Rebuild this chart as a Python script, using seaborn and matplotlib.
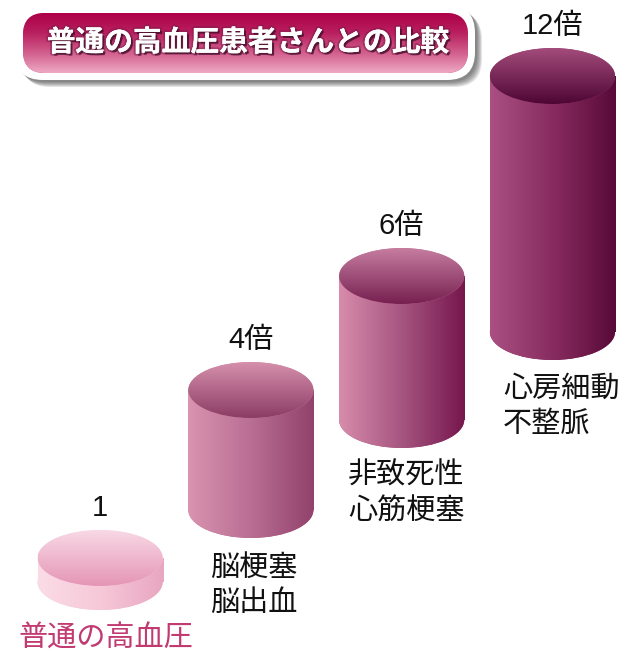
import numpy as np
import seaborn as sns
import matplotlib.pyplot as plt
import matplotlib.patheffects as pe
from matplotlib.colors import LinearSegmentedColormap
from matplotlib.patches import Ellipse, FancyBboxPatch

# values
title = "普通の高血圧患者さんとの比較"
categories = ["普通の高血圧", "脳梗塞 脳出血", "非致死性 心筋梗塞", "心房細動 不整脈"]
ratio_labels = ["1", "4倍", "6倍", "12倍"]
wall_heights = [24, 120, 144, 256]
base_levels = [70, 142, 232, 320]
label_lines = [["普通の高血圧"], ["脳梗塞", "脳出血"], ["非致死性", "心筋梗塞"], ["心房細動", "不整脈"]]

# colours per cylinder
wall_colors = [
    ["#fbdce6", "#f6c8d8", "#e8a6c0"],
    ["#d994b0", "#b96e93", "#92426c"],
    ["#d88cab", "#a65580", "#76164e"],
    ["#aa5082", "#882c60", "#580a38"],
]
top_colors = [
    ["#f8d9e5", "#e595b5"],
    ["#d590ac", "#8c3c64"],
    ["#c67da0", "#762050"],
    ["#a34c7b", "#4e0634"],
]
label_colors = ["#c23a72", "#111111", "#111111", "#111111"]

sns.set_theme(style="white")
plt.rcParams["font.family"] = ["Liberation Sans", "Noto Sans CJK JP"]

fig = plt.figure(figsize=(6.23, 6.52), dpi=100)
ax = fig.add_axes([0, 0, 1, 1])

sns.barplot(x=categories, y=wall_heights, bottom=base_levels, width=0.83,
            color="#a6527f", errorbar=None, saturation=1, ax=ax)

ry = 28  # half height of the ellipses
h_grad = np.linspace(0, 1, 256).reshape(1, -1)
v_grad = np.linspace(0, 1, 256).reshape(-1, 1)

for i, bar in enumerate(ax.patches):
    x0 = bar.get_x()
    w = bar.get_width()
    cx = x0 + w / 2
    y0 = bar.get_y()
    y1 = y0 + bar.get_height()

    wall_cmap = LinearSegmentedColormap.from_list("wall", wall_colors[i])
    top_cmap = LinearSegmentedColormap.from_list("top", top_colors[i])

    # wall: bar body plus the rounded lower edge
    low = Ellipse((cx, y0), w, 2 * ry, facecolor=wall_colors[i][1], edgecolor="none", zorder=1)
    ax.add_patch(low)
    for clip in (bar, low):
        im = ax.imshow(h_grad, cmap=wall_cmap, aspect="auto", zorder=2,
                       extent=(x0, x0 + w, y0 - ry, y1))
        im.set_clip_path(clip)

    # top face
    top = Ellipse((cx, y1), w, 2 * ry, facecolor=top_colors[i][0], edgecolor="none", zorder=3)
    ax.add_patch(top)
    im = ax.imshow(v_grad, cmap=top_cmap, aspect="auto", zorder=4,
                   extent=(x0, x0 + w, y1 - ry, y1 + ry))
    im.set_clip_path(top)

    # ratio above the cylinder
    ax.annotate(ratio_labels[i], (cx, y1 + ry), xytext=(0, 16), textcoords="offset points",
                ha="center", va="center", fontsize=21, color="#111111")

ax.set_xlim(-0.664, 3.468)
ax.set_ylim(0, 652)
ax.axis("off")

# overlay in pixel units for the banner and the name labels
deco = fig.add_axes([0, 0, 1, 1], facecolor="none")

name_x = [18, 210, 348, 503]
name_y = [639, 568, 476, 389]
for i, lines in enumerate(label_lines):
    for j, line in enumerate(lines):
        deco.text(name_x[i], name_y[i] + 35 * j, line, ha="left", va="center",
                  fontsize=21, color=label_colors[i])

# banner
for off in [7, 6, 5, 4, 3, 2]:
    deco.add_patch(FancyBboxPatch((15 + off, 5 + off), 460, 75,
                                  boxstyle="round,pad=0,rounding_size=28",
                                  facecolor="#303030", edgecolor="none", alpha=0.13, zorder=5))
deco.add_patch(FancyBboxPatch((15, 5), 460, 75, boxstyle="round,pad=0,rounding_size=28",
                              facecolor="white", edgecolor="none", zorder=6))
inner = FancyBboxPatch((23, 13), 445, 60, boxstyle="round,pad=0,rounding_size=22",
                       facecolor="#c03070", edgecolor="none", zorder=7)
deco.add_patch(inner)
banner_cmap = LinearSegmentedColormap.from_list("banner", ["#ad0048", "#b9205f", "#d2608e", "#efa9c4"])
im = deco.imshow(v_grad, cmap=banner_cmap, aspect="auto", zorder=8, extent=(23, 468, 73, 13))
im.set_clip_path(inner)

deco.text(248, 43, title, ha="center", va="center", fontsize=20.7, fontweight="bold",
          color="white", zorder=9,
          path_effects=[pe.withStroke(linewidth=3, foreground="#7a1c48", alpha=0.45),
                        pe.withSimplePatchShadow(offset=(1.5, -1.5), shadow_rgbFace="#3c0c26", alpha=0.7),
                        pe.Normal()])

deco.set_xlim(0, 623)
deco.set_ylim(652, 0)
deco.axis("off")

fig.savefig("out.png", dpi=100)
